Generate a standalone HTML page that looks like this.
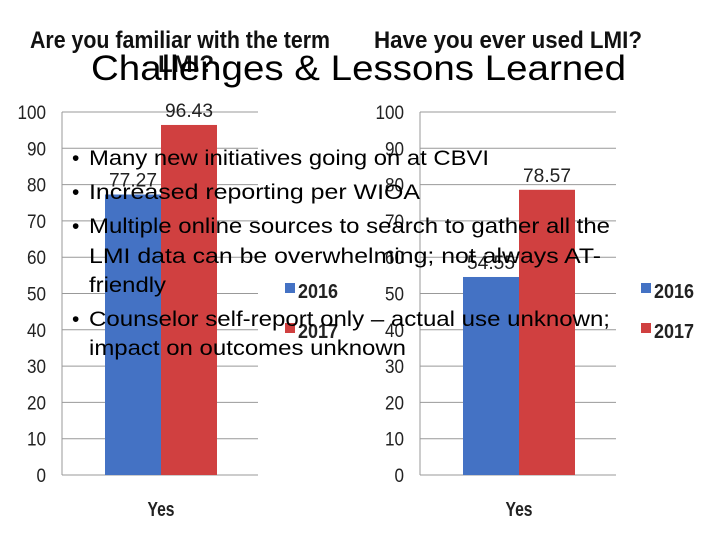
<!DOCTYPE html>
<html><head><meta charset="utf-8"><style>
body{margin:0;background:#fff;}
svg{display:block;font-family:"Liberation Sans",sans-serif;}
</style></head><body>
<svg id="s" width="720" height="540">
<g id="charts"></g>
<text x="91" y="80" font-size="35" fill="#000" textLength="535" lengthAdjust="spacingAndGlyphs">Challenges &amp; Lessons Learned</text>
<g font-size="21" fill="#000" lengthAdjust="spacingAndGlyphs">
<text x="72" y="165">•</text><text x="89" y="165" textLength="400" lengthAdjust="spacingAndGlyphs">Many new initiatives going on at CBVI</text>
<text x="72" y="199">•</text><text x="89" y="199" textLength="331" lengthAdjust="spacingAndGlyphs">Increased reporting per WIOA</text>
<text x="72" y="233">•</text><text x="89" y="233" textLength="521" lengthAdjust="spacingAndGlyphs">Multiple online sources to search to gather all the</text>
<text x="89" y="263" textLength="512" lengthAdjust="spacingAndGlyphs">LMI data can be overwhelming; not always AT-</text>
<text x="89" y="292" textLength="77" lengthAdjust="spacingAndGlyphs">friendly</text>
<text x="72" y="326">•</text><text x="89" y="326" textLength="521" lengthAdjust="spacingAndGlyphs">Counselor self-report only – actual use unknown;</text>
<text x="89" y="355" textLength="317" lengthAdjust="spacingAndGlyphs">impact on outcomes unknown</text>
</g>
</svg>
<script>
const ticks=[0,10,20,30,40,50,60,70,80,90,100];
const series=["2016","2017"];
const colors=["#4472c4","#d04040"];
const chart1Values=[77.27,96.43];
const chart2Values=[54.55,78.57];
const titles=["Are you familiar with the term LMI?","Have you ever used LMI?"];
const NS="http://www.w3.org/2000/svg";
const g=document.getElementById('charts');
function mk(t,a,p){const e=document.createElementNS(NS,t);for(const k in a)e.setAttribute(k,a[k]);(p||g).appendChild(e);return e;}
const y0=475,y100=112;
function yS(v){return y0-(v-0)/100*(y0-y100);}
function draw(ax,vals,title,titleX,legX,idx){
  const t=mk('text',{x:titleX,y:48,'font-size':24,'font-weight':'bold',fill:'#111',textLength:title==titles[0]?300:268,lengthAdjust:'spacingAndGlyphs'});
  
  
  t.textContent=title==titles[0]?"Are you familiar with the term":title;
  if(idx===1){const t2=mk('text',{x:158,y:72,'font-size':24,'font-weight':'bold',fill:'#111'});t2.textContent="LMI?";
  
  }
  ticks.forEach(v=>{
    const l=mk('line',{x1:ax,x2:ax+196,y1:yS(v),y2:yS(v),stroke:'#999','stroke-width':1});
    
    
    const s=String(v);
    const tx=mk('text',{x:ax-16,y:yS(v)+7,'text-anchor':'end','font-size':19,fill:'#222',textLength:s.length*9.5,lengthAdjust:'spacingAndGlyphs'});
    tx.textContent=s;
    
    
  });
  const a=mk('line',{x1:ax,x2:ax,y1:y100,y2:y0,stroke:'#999'});
  
  
  vals.forEach((v,i)=>{
    const x=ax+43+i*56;
    const r=mk('rect',{x:x,y:yS(v),width:56,height:y0-yS(v),fill:colors[i]});
    
    
    const lt=mk('text',{x:x+28,y:yS(v)-8,'text-anchor':'middle','font-size':19,fill:'#222',textLength:48,lengthAdjust:'spacingAndGlyphs'});
    lt.textContent=v.toFixed(2);
    
    
    const ls=mk('rect',{x:legX,y:283+i*40,width:10,height:10,fill:colors[i]});
    
    
    const lx=mk('text',{x:legX+13,y:298+i*40,'font-size':20,'font-weight':'bold',fill:'#222',textLength:40,lengthAdjust:'spacingAndGlyphs'});
    lx.textContent=series[i];
    
    
  });
  const c=mk('text',{x:ax+99,y:516,'text-anchor':'middle','font-size':20,'font-weight':'bold',fill:'#222',textLength:27,lengthAdjust:'spacingAndGlyphs'});
  c.textContent="Yes";
  
  
}
draw(62,chart1Values,titles[0],30,285,1);
draw(420,chart2Values,titles[1],374,641,2);
</script>
</body></html>
